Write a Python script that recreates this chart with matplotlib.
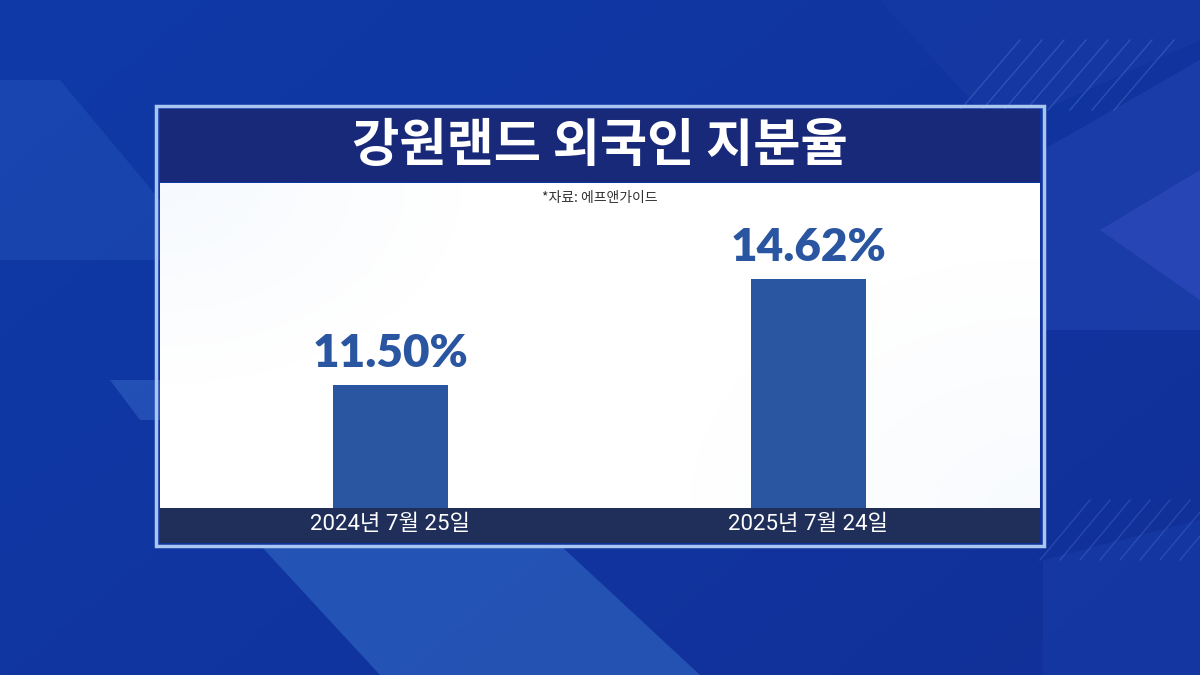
import matplotlib
matplotlib.use("Agg")
import matplotlib.pyplot as plt
import numpy as np
from matplotlib.patches import Rectangle, Polygon

plt.rcParams['font.family'] = ['Noto Sans CJK KR', 'DejaVu Sans']

title = "강원랜드 외국인 지분율"
source = "*자료: 에프앤가이드"
categories = ["2024년 7월 25일", "2025년 7월 24일"]
values = [11.50, 14.62]
value_labels = ["11.50%", "14.62%"]

W, H = 1200, 675
fig = plt.figure(figsize=(12, 6.75), dpi=100)

# ---- background ----
bg = fig.add_axes([0, 0, 1, 1])
bg.set_xlim(0, W)
bg.set_ylim(H, 0)
bg.axis('off')
yy, xx = np.mgrid[0:H:4, 0:W:4]
t = (xx / W) * 0.6 + (yy / H) * 0.4
c0 = np.array([0x0f, 0x3a, 0xa8]) / 255
c1 = np.array([0x12, 0x30, 0x98]) / 255
img = c0[None, None, :] * (1 - t[..., None]) + c1[None, None, :] * t[..., None]
bg.imshow(img, extent=[0, W, H, 0], aspect='auto', zorder=0)

shapes = [
    ([(0, 80), (60, 80), (160, 200), (160, 260), (0, 260)], '#2a5cc0', 0.35),
    ([(110, 380), (160, 380), (160, 420), (140, 420)], '#4a80d8', 0.35),
    ([(260, 545), (560, 545), (700, 675), (380, 675)], '#3b7ad0', 0.45),
    ([(1043, 150), (1200, 60), (1200, 330), (1043, 330)], '#2b4fc0', 0.35),
    ([(1100, 230), (1200, 170), (1200, 300)], '#3a50c8', 0.45),
    ([(880, 0), (1200, 0), (1200, 40), (1043, 110), (980, 110)], '#1c3ea8', 0.4),
    ([(1043, 560), (1200, 520), (1200, 675), (1043, 675)], '#1c45b5', 0.3),
]
for pts, col, a in shapes:
    bg.add_patch(Polygon(pts, closed=True, facecolor=col, edgecolor='none', alpha=a, zorder=1))
for i in range(8):
    x0 = 960 + i * 22
    bg.plot([x0, x0 + 60], [110, 40], color='#6a8fe0', lw=1, alpha=0.3, zorder=1)
    x1 = 1040 + i * 20
    bg.plot([x1, x1 + 50], [560, 500], color='#6a8fe0', lw=1, alpha=0.25, zorder=1)

# ---- panel ----
bg.add_patch(Rectangle((156, 106), 888, 440, facecolor='none', edgecolor='#a9c6f0', lw=2.5, zorder=2))
py, px = np.mgrid[0:325:2, 0:880:2]
d1 = np.clip(1 - np.hypot(px / 300, py / 200), 0, 1)
d2 = np.clip(1 - np.hypot((880 - px) / 350, (325 - py) / 250), 0, 1)
w = np.clip(0.18 * d1 + 0.14 * d2, 0, 1)
pimg = np.ones(px.shape + (3,)) * (1 - w[..., None]) + np.array([0.80, 0.88, 0.98])[None, None, :] * w[..., None]
bg.imshow(pimg, extent=[160, 1040, 508, 183], aspect='auto', zorder=2)
bg.add_patch(Rectangle((160, 109), 880, 73, facecolor='#19297a', edgecolor='none', zorder=3))
bg.add_patch(Rectangle((160, 508), 880, 35, facecolor='#1f2f5a', edgecolor='none', zorder=3))

bg.text(600, 146, title, color='white', fontsize=37, fontweight='bold',
        ha='center', va='center', zorder=5)
bg.text(600, 198, source, color='#333333', fontsize=10, ha='center', va='center', zorder=5)

# ---- chart axes ----
ax = fig.add_axes([160 / W, 1 - 508 / H, 880 / W, (508 - 183) / H])
ax.patch.set_alpha(0)
x = np.arange(len(categories))
ax.bar(x, values, width=0.275, color='#2a55a0', zorder=3)
ax.set_xlim(-0.551, 1.554)
ax.set_ylim(7.88, 17.45)
ax.axis('off')
for xi, v, lab in zip(x, values, value_labels):
    ax.annotate(lab, (xi, v), xytext=(0, 8), textcoords='offset points',
                ha='center', va='bottom', fontsize=33, fontweight='heavy',
                color='#2a55a0', family=['Lato', 'DejaVu Sans'])

for xi, cat in zip(x, categories):
    xpix = 160 + (xi + 0.551) / 2.105 * 880
    bg.text(xpix, 525, cat, color='white', fontsize=16, fontweight='normal',
            family=['Roboto', 'Noto Sans CJK KR', 'DejaVu Sans'],
            ha='center', va='center', zorder=5)

fig.savefig("out.png", dpi=100)
